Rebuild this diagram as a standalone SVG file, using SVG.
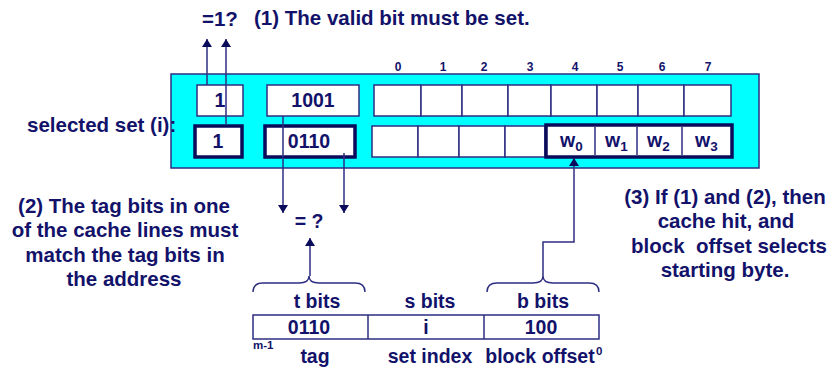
<svg xmlns="http://www.w3.org/2000/svg" width="831" height="368" viewBox="0 0 831 368">
<style>
text{font-family:"Liberation Sans",Arial,sans-serif;font-weight:bold;fill:#12126a}
.t{font-size:20.5px}
.b{font-size:19.5px;text-anchor:middle}
.c{font-size:20.5px;text-anchor:middle}
.s{font-size:12px;text-anchor:middle}
.w{font-size:19.5px}
.sub{font-size:13.5px}
.cell{fill:#fff;stroke:#2e2e82;stroke-width:1.5}
.thick{fill:#fff;stroke:#0b0b5c;stroke-width:3.5}
.ln{fill:none;stroke:#2e2e82;stroke-width:1.5}
</style>
<defs>
<marker id="ah" viewBox="0 0 8 10" refX="8" refY="5" markerWidth="8" markerHeight="10" markerUnits="userSpaceOnUse" orient="auto">
<path d="M0,0 L8,5 L0,10 z" fill="#0b0b5c"/>
</marker>
</defs>
<g id="cache-set">
<rect x="171" y="74" width="588" height="94" fill="#00ffff" stroke="#2e2e82" stroke-width="1.5"/>
</g>
<g id="col-labels">
<text class="s" x="398" y="71">0</text>
<text class="s" x="443" y="71">1</text>
<text class="s" x="484" y="71">2</text>
<text class="s" x="530" y="71">3</text>
<text class="s" x="575" y="71">4</text>
<text class="s" x="620" y="71">5</text>
<text class="s" x="662" y="71">6</text>
<text class="s" x="708" y="71">7</text>
</g>
<g id="line-top">
<rect class="cell" x="197" y="85" width="46" height="31"/>
<text class="b" x="220" y="107">1</text>
<rect class="cell" x="267" y="85" width="92" height="31"/>
<text class="b" x="313" y="107">1001</text>
<rect class="cell" x="374" y="85" width="47" height="31"/>
<rect class="cell" x="421" y="85" width="41" height="31"/>
<rect class="cell" x="462" y="85" width="46" height="31"/>
<rect class="cell" x="508" y="85" width="43" height="31"/>
<rect class="cell" x="551" y="85" width="46" height="31"/>
<rect class="cell" x="597" y="85" width="41" height="31"/>
<rect class="cell" x="638" y="85" width="46" height="31"/>
<rect class="cell" x="684" y="85" width="47" height="31"/>
</g>
<g id="line-selected">
<rect class="thick" x="195" y="126" width="47" height="31"/>
<text class="b" x="218" y="148">1</text>
<rect class="thick" x="265" y="126" width="90" height="31"/>
<text class="b" x="309" y="148">0110</text>
<rect class="cell" x="372" y="126" width="46" height="31"/>
<rect class="cell" x="418" y="126" width="41" height="31"/>
<rect class="cell" x="459" y="126" width="46" height="31"/>
<rect class="cell" x="505" y="126" width="40" height="31"/>
<rect class="thick" x="546" y="125" width="186" height="32"/>
<line class="ln" x1="595" y1="127" x2="595" y2="155"/>
<line class="ln" x1="637" y1="127" x2="637" y2="155"/>
<line class="ln" x1="682" y1="127" x2="682" y2="155"/>
<text class="w" x="560" y="147">w<tspan class="sub" dy="4">0</tspan></text>
<text class="w" x="605" y="147">w<tspan class="sub" dy="4">1</tspan></text>
<text class="w" x="647" y="147">w<tspan class="sub" dy="4">2</tspan></text>
<text class="w" x="695" y="147">w<tspan class="sub" dy="4">3</tspan></text>
</g>
<g id="address">
<rect class="cell" x="253" y="315" width="346" height="24"/>
<line class="ln" x1="368" y1="315" x2="368" y2="339"/>
<line class="ln" x1="484" y1="315" x2="484" y2="339"/>
<text class="b" x="309" y="334">0110</text>
<text class="b" x="426" y="334">i</text>
<text class="b" x="541" y="334">100</text>
<text class="b" x="317" y="308">t bits</text>
<text class="b" x="430" y="308">s bits</text>
<text class="b" x="543" y="308">b bits</text>
<text class="b" x="315" y="363">tag</text>
<text class="b" x="430" y="363">set index</text>
<text class="b" x="540" y="363">block offset</text>
<text x="253" y="349" font-size="11.5px">m-1</text>
<text x="596" y="355" font-size="11.5px">0</text>
</g>
<g id="labels">
<text class="t" x="202" y="26">=1?</text>
<text class="t" x="254" y="25">(1) The valid bit must be set.</text>
<text class="t" x="27" y="132">selected set (i):</text>
<text class="b" x="309" y="228">= ?</text>
<text class="c" x="124" y="213">(2) The tag bits in one</text>
<text class="c" x="125" y="237">of the cache lines must</text>
<text class="c" x="125" y="262">match the tag bits in</text>
<text class="c" x="124" y="286">the address</text>
<text class="c" x="725" y="204">(3) If (1) and (2), then</text>
<text class="c" x="726" y="228">cache hit, and</text>
<text class="c" x="729" y="253" xml:space="preserve">block  offset selects</text>
<text class="c" x="725" y="277">starting byte.</text>
</g>
<g id="connectors">
<line class="ln" x1="207" y1="85" x2="207" y2="39" marker-end="url(#ah)"/>
<line class="ln" x1="226" y1="125" x2="226" y2="39" marker-end="url(#ah)"/>
<line class="ln" x1="283" y1="116" x2="283" y2="213" marker-end="url(#ah)"/>
<line class="ln" x1="344" y1="153" x2="344" y2="213" marker-end="url(#ah)"/>
<path class="ln" d="M253,292 Q253,283 263,283 L299,283 Q309,283 309,276 Q309,283 319,283 L355,283 Q365,283 365,292"/>
<line class="ln" x1="310" y1="276" x2="310" y2="238" marker-end="url(#ah)"/>
<path class="ln" d="M487,292 Q487,283 497,283 L533,283 Q543,283 543,276 Q543,283 553,283 L589,283 Q599,283 599,292"/>
<path class="ln" d="M543,276 L543,242 L574,242 L574,158" marker-end="url(#ah)"/>
</g>
</svg>
